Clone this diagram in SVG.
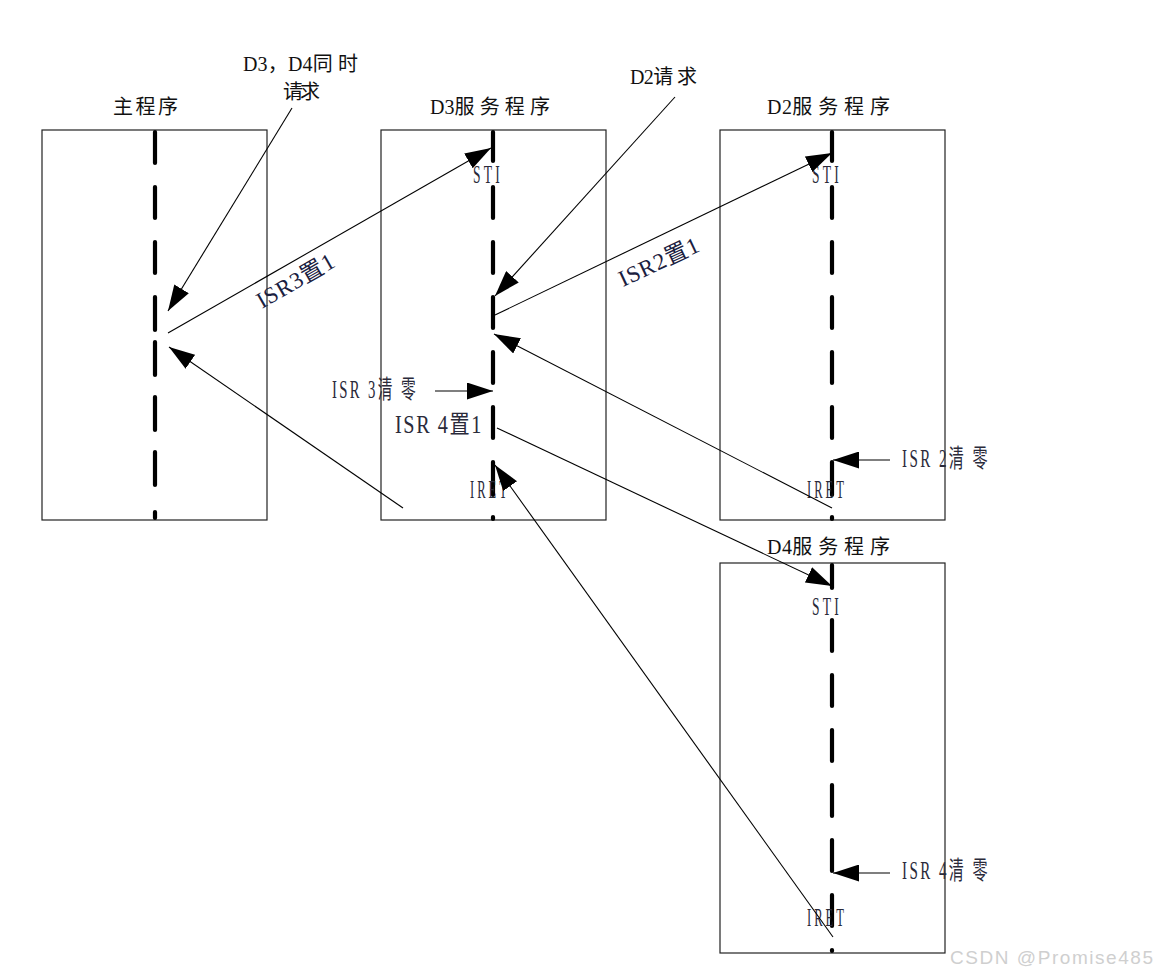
<svg xmlns="http://www.w3.org/2000/svg" width="1158" height="976" viewBox="0 0 1158 976">
<style>
.box{fill:#fff;stroke:#222;stroke-width:1.2}
.life{fill:none;stroke:#000;stroke-width:4.2;stroke-linecap:round}
.conn{fill:none;stroke:#000;stroke-width:1.1}
.title{font-family:"Liberation Serif","Noto Sans CJK SC",serif;font-size:20px;fill:#111}
.lab{font-family:"Liberation Serif","Noto Sans CJK SC",serif;font-size:25px;fill:#2a2a3a}
.rot{font-family:"Liberation Serif","Noto Sans CJK SC",serif;font-size:23px;fill:#1a2040}
.wm{font-family:"Liberation Sans","Noto Sans CJK SC",sans-serif;font-size:19px;fill:#cfcfcf}
</style>
<defs>
<marker id="ah" markerUnits="userSpaceOnUse" markerWidth="26" markerHeight="17" refX="26" refY="8.5" orient="auto">
<path d="M0,0 L26,8.5 L0,17 Z" fill="#000"/>
</marker>
</defs>

<g id="main">
<rect class="box" x="42" y="130" width="225" height="390"/>
<path class="life" d="M155,132V163M155,187V218M155,242V273M155,297V330M155,342V375M155,397V430M155,452V485M155,512V518"/>
<text class="title" x="113" y="114" textLength="65">主 程 序</text>
</g>

<g id="d3">
<rect class="box" x="381" y="130" width="225" height="390"/>
<path class="life" d="M493,132V161M493,187V218M493,242V273M493,297V328M493,352V383M493,407V438M493,462V495M493,517V519"/>
<text class="title" x="430" y="114" textLength="120">D3服 务 程 序</text>
<text class="lab" x="473" y="183" textLength="30" lengthAdjust="spacingAndGlyphs" letter-spacing="6">STI</text>
<text class="lab" x="470" y="498" textLength="40" lengthAdjust="spacingAndGlyphs" letter-spacing="6">IRET</text>
<text class="lab" x="332" y="398" textLength="86" lengthAdjust="spacingAndGlyphs" letter-spacing="4">ISR 3清 零</text>
<text class="lab" x="395" y="433" font-size="22" letter-spacing="2" textLength="88" lengthAdjust="spacingAndGlyphs">ISR 4置1</text>
</g>

<g id="d2">
<rect class="box" x="720" y="130" width="225" height="390"/>
<path class="life" d="M832,132V161M832,187V218M832,242V273M832,297V328M832,352V383M832,407V438M832,462V495M832,517V519"/>
<text class="title" x="767" y="114" textLength="123">D2服 务 程 序</text>
<text class="lab" x="812" y="183" textLength="30" lengthAdjust="spacingAndGlyphs" letter-spacing="6">STI</text>
<text class="lab" x="807" y="498" textLength="40" lengthAdjust="spacingAndGlyphs" letter-spacing="6">IRET</text>
<text class="lab" x="902" y="467" textLength="88" lengthAdjust="spacingAndGlyphs" letter-spacing="4">ISR 2清 零</text>
</g>

<g id="d4">
<rect class="box" x="720" y="563" width="225" height="390"/>
<path class="life" d="M832,565V588M832,620V651M832,675V706M832,730V761M832,785V816M832,840V871M832,895V926M832,950V951"/>
<text class="title" x="767" y="554" textLength="123">D4服 务 程 序</text>
<text class="lab" x="812" y="615" textLength="30" lengthAdjust="spacingAndGlyphs" letter-spacing="6">STI</text>
<text class="lab" x="807" y="926" textLength="40" lengthAdjust="spacingAndGlyphs" letter-spacing="6">IRET</text>
<text class="lab" x="902" y="879" textLength="88" lengthAdjust="spacingAndGlyphs" letter-spacing="4">ISR 4清 零</text>
</g>

<g id="notes">
<text class="title" x="243" y="71" textLength="115">D3，D4同 时</text>
<text class="title" x="283" y="99" textLength="37">请 求</text>
<text class="title" x="630" y="84" textLength="67">D2请 求</text>
<text class="rot" transform="translate(262,309) rotate(-30)" textLength="86">ISR3置1</text>
<text class="rot" transform="translate(623,287) rotate(-25)" textLength="86">ISR2置1</text>
</g>

<g id="connectors">
<line class="conn" x1="292" y1="108" x2="168" y2="311" marker-end="url(#ah)"/>
<line class="conn" x1="168" y1="333" x2="491" y2="148" marker-end="url(#ah)"/>
<line class="conn" x1="675" y1="97" x2="495" y2="296" marker-end="url(#ah)"/>
<line class="conn" x1="495" y1="315" x2="832" y2="153" marker-end="url(#ah)"/>
<line class="conn" x1="832" y1="508" x2="494" y2="334" marker-end="url(#ah)"/>
<line class="conn" x1="497" y1="428" x2="832" y2="586" marker-end="url(#ah)"/>
<line class="conn" x1="833" y1="937" x2="495" y2="465" marker-end="url(#ah)"/>
<line class="conn" x1="403" y1="508" x2="169" y2="347" marker-end="url(#ah)"/>
<line class="conn" x1="435" y1="391" x2="493" y2="391" marker-end="url(#ah)"/>
<line class="conn" x1="890" y1="460" x2="833" y2="460" marker-end="url(#ah)"/>
<line class="conn" x1="890" y1="873" x2="833" y2="873" marker-end="url(#ah)"/>
</g>

<text class="wm" x="950" y="964" textLength="203">CSDN @Promise485</text>
</svg>
